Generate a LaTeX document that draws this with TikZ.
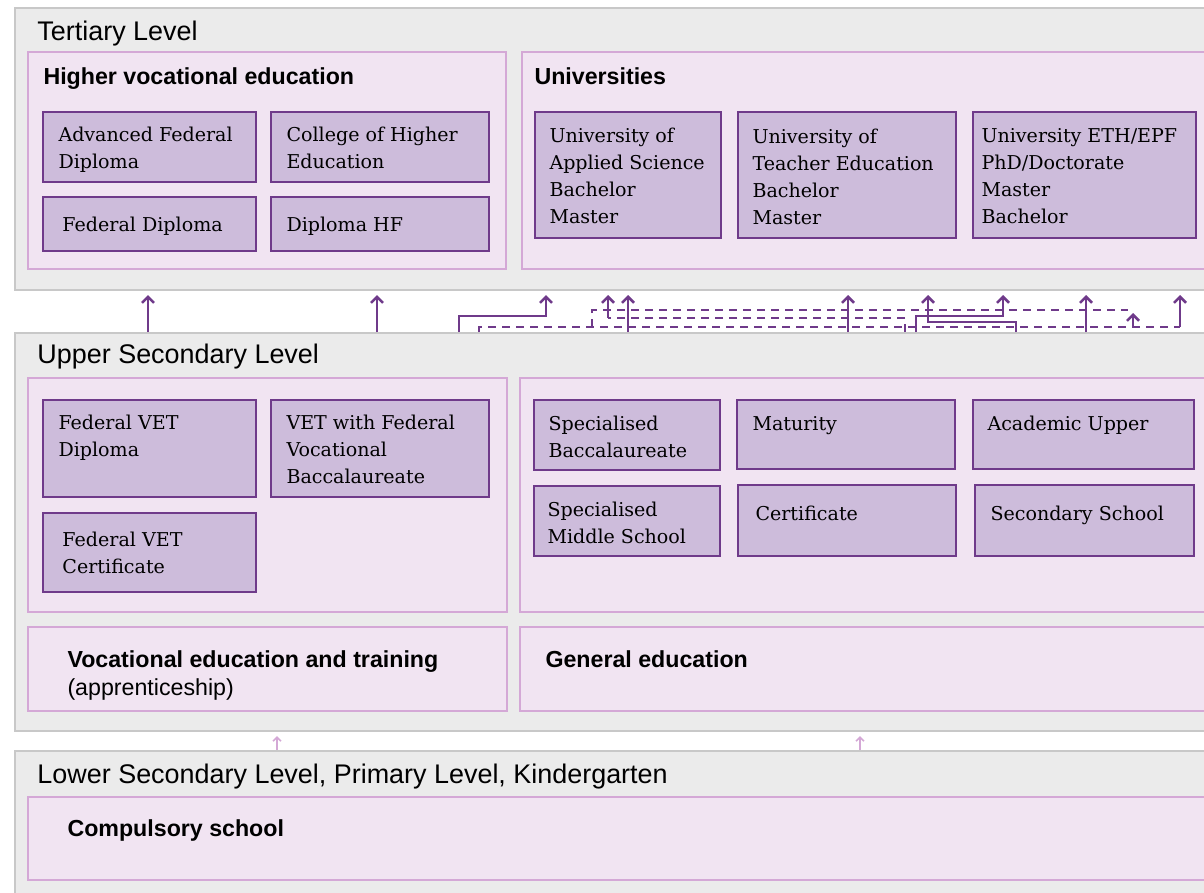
\documentclass[tikz,border=0pt]{standalone}
\usepackage{fontspec}
\setmainfont{DejaVu Serif}
\setsansfont{Liberation Sans}
\usetikzlibrary{arrows.meta,fit}

\definecolor{panelgrey}{RGB}{235,235,235}
\definecolor{panelline}{RGB}{200,200,200}
\definecolor{lilac}{RGB}{241,228,242}
\definecolor{lilacline}{RGB}{212,168,214}
\definecolor{mauve}{RGB}{205,188,219}
\definecolor{plum}{RGB}{111,58,138}

\tikzset{every picture/.style={line width=0.75pt}}
\tikzset{
  level/.style={draw=panelline, fill=panelgrey, line width=1.5pt, inner sep=0pt},
  group/.style={draw=lilacline, fill=lilac, line width=1.5pt, inner sep=0pt},
  school/.style={draw=plum, fill=mauve, line width=2pt, inner sep=0pt},
  leveltxt/.style={font=\sffamily\fontsize{20.2}{24}\selectfont, anchor=base west, inner sep=0pt},
  grouptxt/.style={font=\sffamily\bfseries\fontsize{17.4}{21}\selectfont, anchor=base west, inner sep=0pt, align=left},
  schooltxt/.style={font=\fontsize{14.3}{20.25}\selectfont, anchor=base west, inner sep=0pt, align=left},
  route/.style={draw=plum, line width=1.9pt},
  routearr/.style={route, -{Straight Barb[length=4.5pt,width=9pt]}, shorten >=3pt},
  routedash/.style={route, dash pattern=on 6pt off 4.5pt},
  lightarr/.style={draw=lilacline, line width=1.2pt, -{Straight Barb[length=3pt,width=6pt]}, shorten >=3pt}
}

\begin{document}
\begin{tikzpicture}[x=0.75pt,y=0.75pt,yscale=-1,xscale=1]
		\clip (0,0) rectangle (1204,893);
		\fill[white] (0,0) rectangle (1204,893);

		%Shape: Rectangle  levels
		\node[level, fit={(15,8) (1220,290)}] (tertiary) {};
		\node[level, fit={(15,333) (1220,731)}] (upper) {};
		\node[level, fit={(15,751) (1220,905)}] (lower) {};

		%Shape: Rectangle  groups
		\node[group, fit={(28,52) (506,269)}] (hve) {};
		\node[group, fit={(522,52) (1215,269)}] (uni) {};
		\node[group, fit={(28,378) (507,612)}] (vetgrid) {};
		\node[group, fit={(520,378) (1215,612)}] (gengrid) {};
		\node[group, fit={(28,627) (507,711)}] (vet) {};
		\node[group, fit={(520,627) (1215,711)}] (gen) {};
		\node[group, fit={(28,797) (1215,880)}] (comp) {};

		%Shape: Rectangle  schools
		\node[school, fit={(43,112) (256,182)}] (afd) {};
		\node[school, fit={(271,112) (489,182)}] (che) {};
		\node[school, fit={(43,197) (256,251)}] (fd) {};
		\node[school, fit={(271,197) (489,251)}] (hf) {};
		\node[school, fit={(535,112) (721,238)}] (uas) {};
		\node[school, fit={(738,112) (956,238)}] (ute) {};
		\node[school, fit={(973,112) (1196,238)}] (eth) {};
		\node[school, fit={(43,400) (256,497)}] (vetd) {};
		\node[school, fit={(271,400) (489,497)}] (vetb) {};
		\node[school, fit={(43,513) (256,592)}] (vetc) {};
		\node[school, fit={(534,400) (720,470)}] (spb) {};
		\node[school, fit={(737,400) (955,469)}] (mat) {};
		\node[school, fit={(973,400) (1194,469)}] (acu) {};
		\node[school, fit={(534,486) (720,556)}] (sms) {};
		\node[school, fit={(738,485) (956,556)}] (cert) {};
		\node[school, fit={(975,485) (1194,556)}] (sec) {};

		% Text Node  (multi-line nodes sit on their last baseline)
		\node[leveltxt] (tertiarytxt) at (37,40) {Tertiary Level};
		\node[leveltxt] (uppertxt) at (37,363) {Upper Secondary Level};
		\node[leveltxt] (lowertxt) at (37,783) {Lower Secondary Level, Primary Level, Kindergarten};
		% Text Node
		\node[grouptxt] (hvetxt) at (43,84) {Higher vocational education};
		\node[grouptxt] (unitxt) at (534,84) {Universities};
		\node[grouptxt] (vettxt) at (67,695) {Vocational education and training\\\mdseries(apprenticeship)};
		\node[grouptxt] (gentxt) at (545,667) {General education};
		\node[grouptxt] (comptxt) at (67,836) {Compulsory school};
		% Text Node
		\node[schooltxt] (afdtxt) at (58,168) {Advanced Federal\\Diploma};
		\node[schooltxt] (chetxt) at (286,168) {College of Higher\\Education};
		\node[schooltxt] (fdtxt) at (62,231) {Federal Diploma};
		\node[schooltxt] (hftxt) at (286,231) {Diploma HF};
		\node[schooltxt] (uastxt) at (549,223) {University of\\Applied Science\\Bachelor\\Master};
		\node[schooltxt] (utetxt) at (752,224) {University of\\Teacher Education\\Bachelor\\Master};
		\node[schooltxt] (ethtxt) at (981,223) {University ETH/EPF\\PhD/Doctorate\\Master\\Bachelor};
		\node[schooltxt] (vetdtxt) at (58,456) {Federal VET\\Diploma};
		\node[schooltxt] (vetbtxt) at (286,483) {VET with Federal\\Vocational\\Baccalaureate};
		\node[schooltxt] (vetctxt) at (62,573) {Federal VET\\Certificate};
		\node[schooltxt] (spbtxt) at (548,457) {Specialised\\Baccalaureate};
		\node[schooltxt] (mattxt) at (752,430) {Maturity};
		\node[schooltxt] (acutxt) at (987,430) {Academic Upper};
		\node[schooltxt] (smstxt) at (547,543) {Specialised\\Middle School};
		\node[schooltxt] (certtxt) at (755,520) {Certificate};
		\node[schooltxt] (sectxt) at (990,520) {Secondary School};

		%Straight Lines  upper secondary to tertiary
		\foreach \x in {148,377,628,848,1086}
		  \draw[routearr] (\x,0 |- upper.north) -- (\x,0 |- tertiary.south);
		%Elbow lines
		\draw[routearr] (459,0 |- upper.north) |- (546,316) -- (546,0 |- tertiary.south);
		\draw[routearr] (916,0 |- upper.north) |- (1003,316) -- (1003,0 |- tertiary.south);
		\draw[routearr] (1016,0 |- upper.north) |- (928,322) -- (928,0 |- tertiary.south);
		%Dashed lines
		\draw[routedash] (479,0 |- upper.north) |- (1180,327);
		\draw[routedash] (592,327) |- (1128,310);
		\draw[routedash] (905,0 |- upper.north) |- (608,318);
		\draw[routearr] (608,318) -- (608,0 |- tertiary.south);
		\draw[routearr] (1180,327) -- (1180,0 |- tertiary.south);
		\draw[routearr] (1133,327) -- (1133,309);

		%Straight Lines  lower to upper secondary
		\foreach \x in {277,860}
		  \draw[lightarr] (\x,0 |- lower.north) -- (\x,0 |- upper.south);

\end{tikzpicture}
\end{document}
